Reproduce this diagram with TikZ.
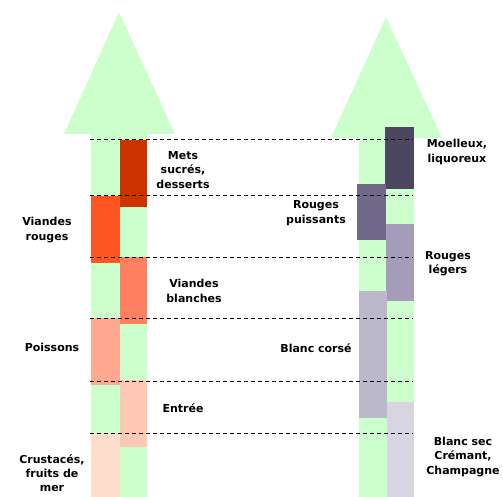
\documentclass[tikz,border=0pt]{standalone}
\usepackage{fontspec}
\setmainfont{DejaVu Sans}

\definecolor{shaft}{HTML}{CCFFCC}
\definecolor{mets}{HTML}{CC3300}
\definecolor{vrouges}{HTML}{FF5522}
\definecolor{vblanches}{HTML}{FF8060}
\definecolor{poissons}{HTML}{FFAA90}
\definecolor{entree}{HTML}{FFC8B4}
\definecolor{crustaces}{HTML}{FFDDCC}
\definecolor{moelleux}{HTML}{4D4660}
\definecolor{rpuissants}{HTML}{706888}
\definecolor{rlegers}{HTML}{A49CB8}
\definecolor{bcorse}{HTML}{BCB8CC}
\definecolor{bsec}{HTML}{D8D4E2}

\begin{document}
\begin{tikzpicture}[x=1pt, y=-1pt,
  lbl/.style={font=\fontsize{11}{14.3}\selectfont\bfseries, align=center, inner sep=0pt},
  guide/.style={dash pattern=on 4pt off 3pt, line width=1pt}]
  \useasboundingbox (0,0) rectangle (503,497);
  % Two green arrows: dishes on the left, wines on the right
  \fill[shaft] (119,12) -- (175,134) -- (147,134) -- (147,497)
    -- (91,497) -- (91,134) -- (64,134) -- cycle;
  \fill[shaft] (386,17) -- (442,138) -- (414,138) -- (414,497)
    -- (359,497) -- (359,138) -- (331,138) -- cycle;
  % Coloured bands inside the shafts, two per column
  \foreach \xa/\ya/\xb/\yb/\c in {
      120/140/147/207/mets, 91/196/120/263/vrouges,
      120/257/147/324/vblanches, 91/318/120/385/poissons,
      120/380/147/447/entree, 91/433/120/497/crustaces,
      385/127/414/189/moelleux, 357/184/386/240/rpuissants,
      386/224/414/301/rlegers, 359/291/387/418/bcorse,
      387/402/414/497/bsec} {
    \fill[\c] (\xa,\ya) rectangle (\xb,\yb);
  }
  % Dashed guides across both arrows, drawn on top of the bands
  \foreach \y in {140,196,257,318,381,433} {
    \draw[guide] (90,\y) -- (413,\y);
  }
  % Dish labels
  \node[lbl] (vrouges) at (47,230) {Viandes\\rouges};
  \node[lbl] (poissons) at (52,347) {Poissons};
  \node[lbl] (crustaces) at (52,473) {Crustacés,\\fruits de\\mer};
  \node[lbl] (mets) at (183,170) {Mets\\sucrés,\\desserts};
  \node[lbl] (vblanches) at (194,291) {Viandes\\blanches};
  \node[lbl] (entree) at (183,408) {Entrée};
  % Wine labels
  \node[lbl] (moelleux) at (457,152) {Moelleux,\\liquoreux};
  \node[lbl] (rpuissants) at (316,213) {Rouges\\puissants};
  \node[lbl] (rlegers) at (448,264) {Rouges\\légers};
  \node[lbl] (bcorse) at (316,348) {Blanc corsé};
  \node[lbl] (bsec) at (463,457) {Blanc sec\\Crémant,\\Champagne};
\end{tikzpicture}
\end{document}
